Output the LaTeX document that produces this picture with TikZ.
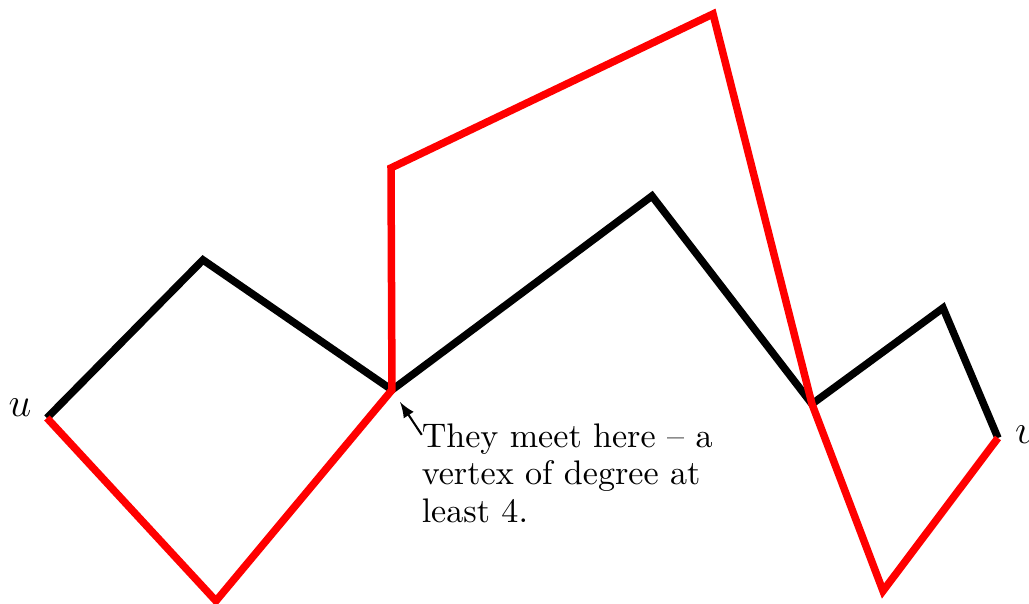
\documentclass[tikz,border=0pt]{standalone}
\usetikzlibrary{positioning}
\definecolor{walkred}{HTML}{FF0000}
\tikzset{
  walk/.style={line width=2.2pt},
  endlabel/.style={font=\large},
  note/.style={anchor=north west, inner sep=0pt, align=left,
    font=\fontsize{10}{11}\selectfont}
}

\begin{document}
\begin{tikzpicture}
  \useasboundingbox (0,0) rectangle (10.606,6.225);

  % vertices of the two walks
  \coordinate (u) at (0.484,1.917);
  \coordinate (a) at (2.092,3.546);
  \coordinate (m) at (4.040,2.206);
  \coordinate (b) at (6.720,4.205);
  \coordinate (n) at (8.369,2.061);
  \coordinate (c) at (9.720,3.051);
  \coordinate (v) at (10.286,1.711);
  \coordinate (d) at (2.226,0.031);
  \coordinate (e) at (4.030,4.494);
  \coordinate (f) at (7.349,6.081);
  \coordinate (g) at (9.101,0.134);

  \draw[walk, black] (u) -- (a) -- (m) -- (b) -- (n) -- (c) -- (v);
  \draw[walk, walkred] (u) -- (d) -- (m) -- (e) -- (f) -- (n) -- (g) -- (v);

  \node[endlabel, left=1pt of u, yshift=3pt] (ulab) {$u$};
  \node[endlabel, right=1.5pt of v, yshift=1pt] (vlab) {$v$};

  \node[note] (remark) at (4.340,1.866)
    {They meet here -- a\\vertex of degree at\\least 4.};
  \coordinate (tip) at (4.123,2.082);
  \draw[-latex, line width=0.6pt] ([xshift=0.2pt,yshift=-3.5pt]remark.north west) -- (tip);
\end{tikzpicture}
\end{document}
